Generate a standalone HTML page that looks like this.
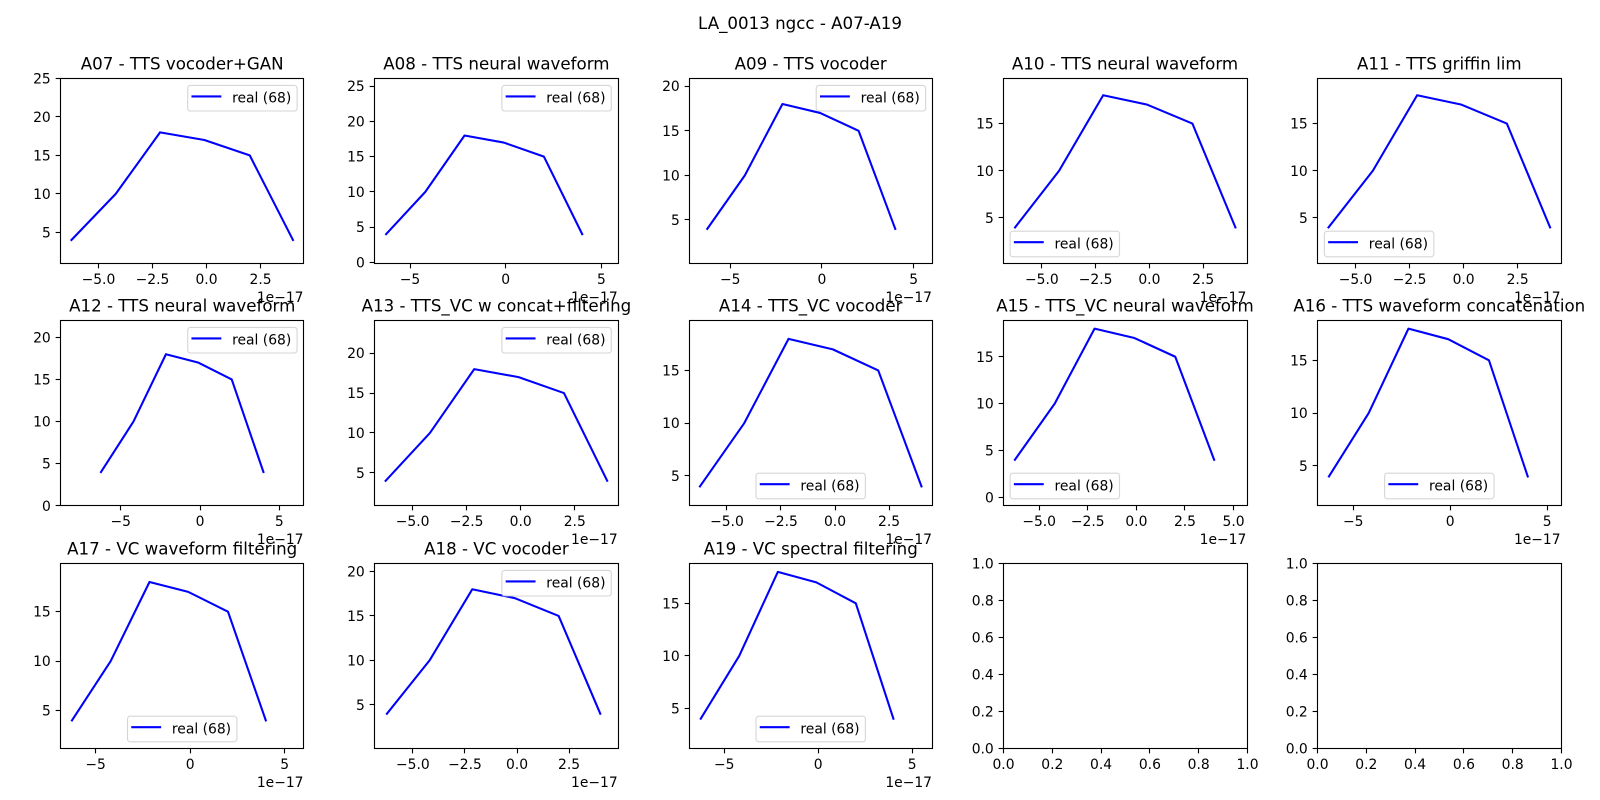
<!DOCTYPE html>
<html lang="en">
<head>
<meta charset="utf-8">
<title>LA_0013 ngcc - A07-A19</title>
<style>
html,body{margin:0;padding:0;background:#fff;width:1600px;height:800px;overflow:hidden}
svg{display:block}
text{font-family:"DejaVu Sans","Liberation Sans",sans-serif;fill:#000}
</style>
</head>
<body>
<svg id="chart" xmlns="http://www.w3.org/2000/svg" width="1600" height="800" viewBox="0 0 1600 800">
<text x="800" y="29" text-anchor="middle" font-size="16.67">LA_0013 ngcc - A07-A19</text>
</svg>
<script>
// Shared series, x in units of 1e-17
const realX = [-6.25, -4.2, -2.15, -0.1, 2, 4];
const realY = [4, 10, 18, 17, 15, 4];
const legendLabel = 'real (68)';
const offsetLabel = '1e\u221217';

const panelTitles = ['A07 - TTS vocoder+GAN','A08 - TTS neural waveform','A09 - TTS vocoder','A10 - TTS neural waveform','A11 - TTS griffin lim','A12 - TTS neural waveform','A13 - TTS_VC w concat+filtering','A14 - TTS_VC vocoder','A15 - TTS_VC neural waveform','A16 - TTS waveform concatenation','A17 - VC waveform filtering','A18 - VC vocoder','A19 - VC spectral filtering'];
const xMinValues = [-6.76,-6.85,-7.25,-6.8,-6.76,-8.81,-6.76,-6.76,-6.85,-6.84,-6.86,-6.84,-6.88];
const xMaxValues = [4.51,5.88,6.03,4.53,4.51,6.56,4.51,4.51,5.68,5.72,6.02,4.86,6.08];
const yMinValues = [0.92,-0.19,0.1,0.16,0.16,0,0.875,2.17,-0.9,1.23,1.14,0.07,1.14];
const yMaxValues = [25,26.09,20.86,19.77,19.77,22.01,24.1,19.74,18.87,18.77,19.87,20.9,18.8];
const xTicksWide = [-5, -2.5, 0, 2.5];
const xTicksWider = [-5, -2.5, 0, 2.5, 5];
const xTicksCoarse = [-5, 0, 5];
const yTicks5 = [5, 10, 15];
const yTicks20 = [5, 10, 15, 20];
const yTicks25 = [5, 10, 15, 20, 25];
const panelXTicks = [xTicksWide,xTicksCoarse,xTicksCoarse,xTicksWide,xTicksWide,xTicksCoarse,xTicksWide,xTicksWide,xTicksWider,xTicksCoarse,xTicksCoarse,xTicksWide,xTicksCoarse];
const panelXDecimals = [1,0,0,1,1,0,1,1,1,0,0,1,0];
const panelYTicks = [yTicks25,[0,5,10,15,20,25],yTicks20,yTicks5,yTicks5,[0,5,10,15,20],yTicks20,yTicks5,[0,5,10,15],yTicks5,yTicks5,yTicks20,yTicks5];
const panelLegendSpots = ['upper-right','upper-right','upper-right','lower-left','lower-left','upper-right','upper-right','lower-center','lower-left','lower-center','lower-center','upper-right','lower-center'];
const emptyTicks = [0, 0.2, 0.4, 0.6, 0.8, 1];
const emptyTickLabels = ['0.0','0.2','0.4','0.6','0.8','1.0'];

const svg = document.getElementById('chart');
const NS = 'http://www.w3.org/2000/svg';
const colLeft = [60.4, 374.6, 688.9, 1003.2, 1317.5];
const frameLeft = [60.5, 374.5, 689.5, 1003.5, 1317.5];
const frameRight = [303.5, 618.5, 932.5, 1247.5, 1561.5];
const rowTop = [78.5, 320.5, 563.5];
const W = 243.6, H = 185.2;

function make(parent, tag, attrs, txt) {
  const el = document.createElementNS(NS, tag);
  for (const k in attrs) el.setAttribute(k, attrs[k]);
  if (txt !== undefined) el.textContent = txt;
  parent.appendChild(el);
  return el;
}
const minus = s => s.replace('-', '\u2212');

function drawFrame(g, col, T) {
  const frame = make(g, 'rect', {x:frameLeft[col], y:T, width:frameRight[col] - frameLeft[col], height:185, fill:'none', stroke:'#000', 'stroke-width':1.11});
  
  
}
function drawXTick(g, px, B, label) {
  const sx = Math.round(px - 0.5) + 0.5;
  const tick = make(g, 'line', {x1:sx, x2:sx, y1:B, y2:B + 4.86, stroke:'#000', 'stroke-width':1.11});
  
  
  const t = make(g, 'text', {x:px, y:B + 20.3, 'text-anchor':'middle', 'font-size':13.89}, label);
  
  
}
function drawYTick(g, py, L, label) {
  const sy = Math.round(py - 0.5) + 0.5;
  const tick = make(g, 'line', {x1:L - 4.86, x2:L, y1:sy, y2:sy, stroke:'#000', 'stroke-width':1.11});
  
  
  const t = make(g, 'text', {x:L - 9.72, y:py + 5.05, 'text-anchor':'end', 'font-size':13.89}, label);
  
  
}

panelTitles.forEach((title, i) => {
  const col = i % 5;
  const L = colLeft[col], T = rowTop[Math.floor(i / 5)], B = T + H, R = L + W;
  const xMin = xMinValues[i], xMax = xMaxValues[i], yMin = yMinValues[i], yMax = yMaxValues[i];
  const xs = v => L + (v - xMin) / (xMax - xMin) * W;
  const ys = v => B - (v - yMin) / (yMax - yMin) * H;

  const g = make(svg, 'g', {});
  
  

  const line = make(g, 'polyline', {
    points: realX.map((x, k) => xs(x).toFixed(2) + ',' + ys(realY[k]).toFixed(2)).join(' '),
    fill:'none', stroke:'#0000ff', 'stroke-width':2.08, 'stroke-linejoin':'round', 'stroke-linecap':'square'
  });
  
  

  drawFrame(g, col, T);
  panelXTicks[i].forEach(v => {
    const lab = v.toFixed(panelXDecimals[i]);
    drawXTick(g, xs(v), T + 185, minus(lab));
  });
  panelYTicks[i].forEach(v => drawYTick(g, ys(v), frameLeft[col], String(v)));

  const ttl = make(g, 'text', {x:L + W / 2, y:T - 9, 'text-anchor':'middle', 'font-size':16.67}, title);
  
  

  const off = make(g, 'text', {x:R - 0.5, y:T + 185 + 38.3, 'text-anchor':'end', 'font-size':13.89}, offsetLabel);
  
  

  const lw = 109.4, lh = 25.6, gap = 6.9, spot = panelLegendSpots[i];
  const lx = spot === 'upper-right' ? R - gap - lw : spot === 'lower-left' ? L + gap : L + W / 2 - lw / 2;
  const ly = spot === 'upper-right' ? T + gap : B - gap - lh;
  const lg = make(g, 'g', {});
  
  
  make(lg, 'rect', {x:lx, y:ly, width:lw, height:lh, rx:2.8, ry:2.8, fill:'#fff', 'fill-opacity':0.8, stroke:'#cccccc', 'stroke-opacity':0.8, 'stroke-width':1.11});
  const swatch = make(lg, 'line', {x1:lx + 4.8, x2:lx + 32.6, y1:ly + 11, y2:ly + 11, stroke:'#0000ff', 'stroke-width':2.08, 'stroke-linecap':'square'});
  
  
  const lt = make(lg, 'text', {x:lx + 44.4, y:ly + 17.3, 'font-size':13.89}, legendLabel);
  
  
});

[3, 4].forEach(col => {
  const L = frameLeft[col], T = rowTop[2], B = T + 185, Wd = frameRight[col] - frameLeft[col];
  const g = make(svg, 'g', {});
  
  
  drawFrame(g, col, T);
  emptyTicks.forEach((v, k) => {
    drawXTick(g, L + v * Wd, B, emptyTickLabels[k]);
    drawYTick(g, B - v * 185, L, emptyTickLabels[k]);
  });
});
</script>
</body>
</html>
